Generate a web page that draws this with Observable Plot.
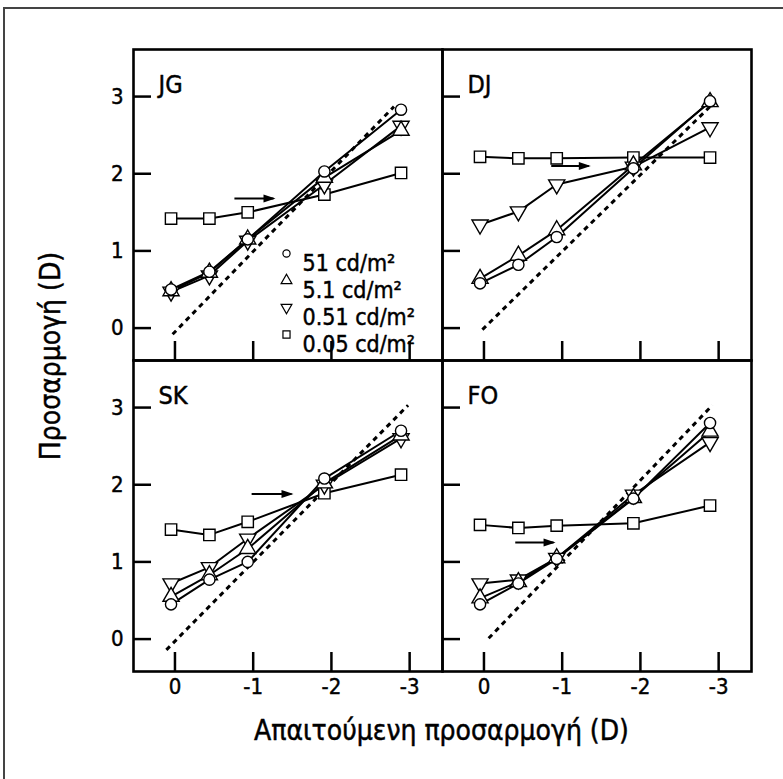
<!DOCTYPE html>
<html>
<head>
<meta charset="utf-8">
<script src="https://cdn.jsdelivr.net/npm/d3@7"></script>
<script src="https://cdn.jsdelivr.net/npm/@observablehq/plot@0.6"></script>
<style>
  html, body { margin: 0; padding: 0; background: white; }
  #chart { width: 783px; height: 779px; }
</style>
</head>
<body>
<div id="chart"></div>
<script>
// ---------- data ----------
const subjects = ["JG", "DJ", "SK", "FO"];
const panelCol = [0, 1, 0, 1];
const panelRow = [0, 0, 1, 1];
const demand = [0.05, -0.44, -0.93, -1.91, -2.89];      // required accommodation (D)
const lumLabels = ["51 cd/m²", "5.1 cd/m²", "0.51 cd/m²", "0.05 cd/m²"];
const xTicks = [0, -1, -2, -3];
const yTicks = [0, 1, 2, 3];

// responses (D) per luminance: 51, 5.1, 0.51, 0.05 cd/m2
const JG = [
  [0.50, 0.73, 1.15, 2.03, 2.83],
  [0.48, 0.72, 1.15, 1.95, 2.56],
  [0.47, 0.68, 1.13, 1.86, 2.62],
  [1.42, 1.42, 1.50, 1.73, 2.01]
];
const DJ = [
  [0.58, 0.82, 1.18, 2.07, 2.94],
  [0.64, 0.94, 1.27, 2.11, 2.93],
  [1.34, 1.51, 1.86, 2.09, 2.60],
  [2.22, 2.20, 2.20, 2.21, 2.21]
];
const SK = [
  [0.45, 0.77, 1.00, 2.08, 2.70],
  [0.55, 0.83, 1.17, 2.02, 2.64],
  [0.72, 0.93, 1.30, 2.00, 2.60],
  [1.42, 1.35, 1.52, 1.89, 2.13]
];
const FO = [
  [0.45, 0.72, 1.04, 1.82, 2.80],
  [0.53, 0.74, 1.05, 1.83, 2.69],
  [0.72, 0.77, 1.05, 1.87, 2.55],
  [1.48, 1.44, 1.47, 1.50, 1.73]
];
const responses = [JG, DJ, SK, FO];

// dashed 1:1 line ends per panel
const diagX1 = [0.03, 0.02, 0.11, -0.06];
const diagY1 = [-0.08, -0.02, -0.14, 0.01];
const diagX2 = [-2.80, -2.95, -2.98, -2.92];
const diagY2 = [2.87, 2.93, 3.03, 3.03];

// arrows per panel
const arrowX1 = [-0.76, -0.86, -0.98, -0.40];
const arrowX2 = [-1.26, -1.34, -1.49, -0.89];
const arrowY = [1.68, 2.10, 1.88, 1.25];

// ---------- build tables ----------
const rows = [];
subjects.forEach((s, si) => {
  responses[si].forEach((series, li) => {
    series.forEach((v, k) => {
      rows.push({subj: s, col: panelCol[si], row: panelRow[si], lum: li, x: demand[k], y: v});
    });
  });
});
const panels = subjects.map((s, i) => ({
  subj: s, col: panelCol[i], row: panelRow[i],
  dx1: diagX1[i], dy1: diagY1[i], dx2: diagX2[i], dy2: diagY2[i],
  ax1: arrowX1[i], ax2: arrowX2[i], ay: arrowY[i]
}));

// ---------- symbols ----------
const triDown = {draw(ctx, size) {
  const y = -Math.sqrt(size / (Math.sqrt(3) * 3));
  ctx.moveTo(0, -y * 2);
  ctx.lineTo(-Math.sqrt(3) * y, y);
  ctx.lineTo(Math.sqrt(3) * y, y);
  ctx.closePath();
}};
const arrowHead = {draw(ctx) {
  ctx.moveTo(6, 0);
  ctx.lineTo(-6, -4);
  ctx.lineTo(-6, 4);
  ctx.closePath();
}};
const symbols = ["circle", "triangle", triDown, "square"];
const symR = [5.6, 6, 6, 6.4];
const legSymR = [3.6, 4, 4, 4];
const drawOrder = [3, 2, 1, 0];

const F = "'Liberation Sans Narrow', 'DejaVu Sans Condensed', 'Arial Narrow', sans-serif";
const TS = 0.45; // slight text thickening

const marks = [];
// dashed 1:1 lines
marks.push(Plot.link(panels, {
  fx: "col", fy: "row", x1: "dx1", y1: "dy1", x2: "dx2", y2: "dy2",
  stroke: "black", strokeWidth: 3, strokeDasharray: "5,4.5", strokeLinecap: "butt"
}));
// series lines
for (const li of drawOrder) {
  marks.push(Plot.line(rows.filter(d => d.lum === li), {
    fx: "col", fy: "row", x: "x", y: "y", z: "subj",
    stroke: "black", strokeWidth: 2
  }));
}
// series symbols
for (const li of drawOrder) {
  marks.push(Plot.dot(rows.filter(d => d.lum === li), {
    fx: "col", fy: "row", x: "x", y: "y",
    symbol: symbols[li], r: symR[li], fill: "white", stroke: "black", strokeWidth: 1.4
  }));
}
// arrows
marks.push(Plot.link(panels, {
  fx: "col", fy: "row", x1: "ax1", y1: "ay", x2: "ax2", y2: "ay",
  stroke: "black", strokeWidth: 2
}));
marks.push(Plot.dot(panels, {
  fx: "col", fy: "row", x: "ax2", y: "ay", dx: -4,
  symbol: arrowHead, fill: "black", stroke: "none"
}));
// panel labels
marks.push(Plot.text(panels, {
  fx: "col", fy: "row", frameAnchor: "top-left", dx: 25, dy: 26,
  text: "subj", textAnchor: "start", fontSize: 25, fill: "black",
  stroke: "black", strokeWidth: TS
}));
// legend (inside JG panel)
lumLabels.forEach((lab, i) => {
  const item = [{col: 0, row: 0, lab}];
  marks.push(Plot.dot(item, {
    fx: "col", fy: "row", frameAnchor: "top-left", dx: 153, dy: 204 + i * 27,
    symbol: symbols[i], r: legSymR[i], fill: "white", stroke: "black", strokeWidth: 1.2
  }));
  marks.push(Plot.text(item, {
    fx: "col", fy: "row", frameAnchor: "top-left", dx: 169, dy: 205 + i * 27,
    text: "lab", textAnchor: "start", fontSize: 23, fill: "black",
    stroke: "black", strokeWidth: TS
  }));
});
// axes: inner ticks on all panels
marks.push(Plot.axisY({ticks: yTicks, anchor: "left", tickSize: -18, fill: "none", label: null,
  facetAnchor: null, stroke: "black", strokeWidth: 2.5}));
marks.push(Plot.axisX({ticks: xTicks, anchor: "bottom", tickSize: -19, fill: "none", label: null,
  facetAnchor: null, stroke: "black", strokeWidth: 2.5}));
// axes: labels on outer panels
marks.push(Plot.axisY({ticks: yTicks, anchor: "left", tickSize: 0, tickPadding: 10, label: null,
  stroke: "none", fill: "black", fontSize: 22, textStroke: "black", textStrokeWidth: TS,
  tickFormat: d => String(d)}));
marks.push(Plot.axisX({ticks: xTicks, anchor: "bottom", tickSize: 0, tickPadding: 7, label: null,
  stroke: "none", fill: "black", fontSize: 22, textStroke: "black", textStrokeWidth: TS,
  tickFormat: d => String(d)}));
// frames
marks.push(Plot.frame({stroke: "black", strokeWidth: 2.6}));

const svg = Plot.plot({
  width: 783,
  height: 779,
  marginLeft: 132,
  marginRight: 32,
  marginTop: 48,
  marginBottom: 108,
  x: {domain: [0.53, -3.42]},
  y: {domain: [-0.42, 3.61]},
  fx: {domain: [0, 1], padding: 0, axis: null},
  fy: {domain: [0, 1], padding: 0, axis: null},
  style: {fontFamily: F, fontSize: "22px", color: "black", background: "white", overflow: "visible"},
  marks
});

// axis titles and outer border
const s = d3.select(svg);
s.append("path")
  .attr("d", "M4,779V8H783")
  .attr("fill", "none").attr("stroke", "#444").attr("stroke-width", 2);
s.append("text")
  .attr("x", 441.5).attr("y", 730)
  .attr("text-anchor", "middle").attr("dominant-baseline", "central")
  .attr("font-family", F).attr("font-size", 28).attr("fill", "black")
  .attr("stroke", "black").attr("stroke-width", TS)
  .text("Απαιτούμενη προσαρμογή (D)");
s.append("text")
  .attr("transform", "translate(50,356) rotate(-90)")
  .attr("text-anchor", "middle").attr("dominant-baseline", "central")
  .attr("font-family", F).attr("font-size", 28).attr("fill", "black")
  .attr("stroke", "black").attr("stroke-width", TS)
  .text("Προσαρμογή (D)");

document.getElementById("chart").appendChild(svg);
</script>
</body>
</html>
